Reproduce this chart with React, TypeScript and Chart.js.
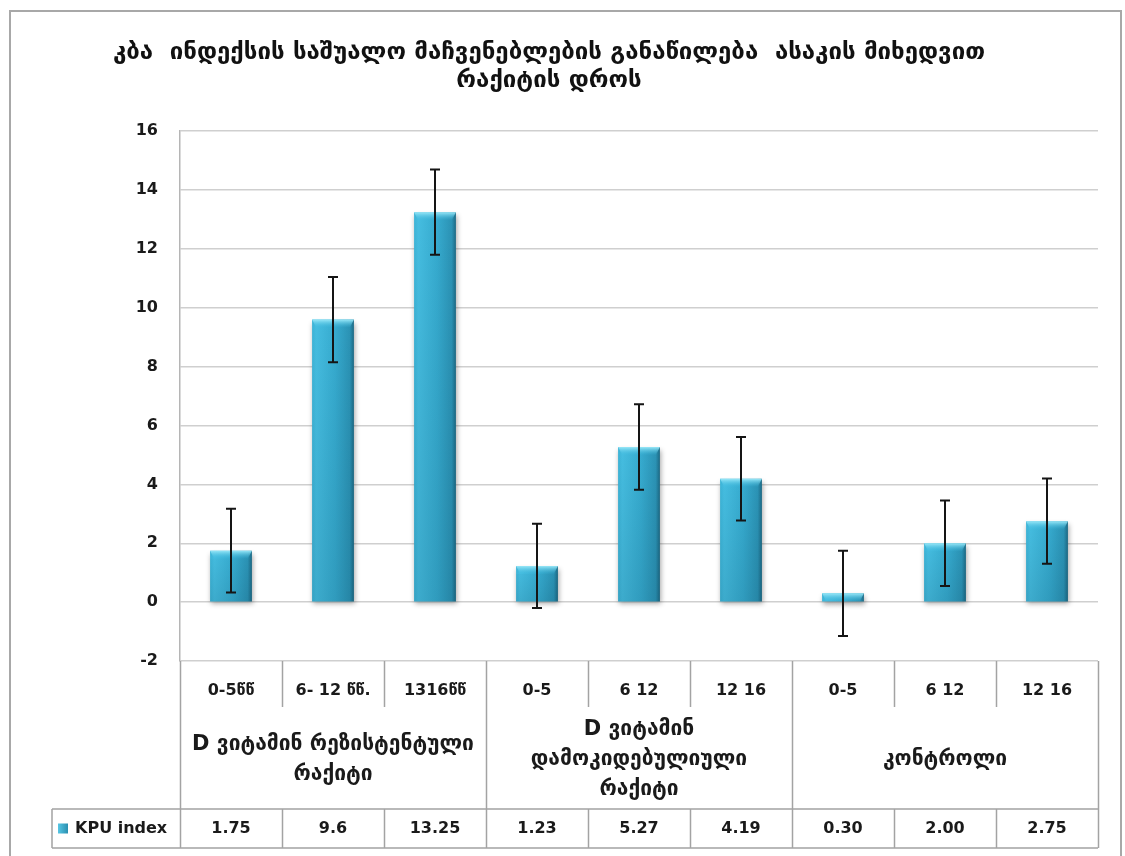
import React, { useEffect, useRef } from "react";
import { Chart, registerables } from "chart.js";

Chart.register(...registerables);

const titleLines = [
  "კბა  ინდექსის საშუალო მაჩვენებლების განაწილება  ასაკის მიხედვით",
  "რაქიტის დროს",
];
const ageLabels = ["0-5წწ", "6- 12 წწ.", "1316წწ", "0-5", "6 12", "12 16", "0-5", "6 12", "12 16"];
const groupLabels = [
  ["D ვიტამინ რეზისტენტული", "რაქიტი"],
  ["D ვიტამინ", "დამოკიდებულიული", "რაქიტი"],
  ["კონტროლი"],
];
const groupSizes = [3, 3, 3];
const seriesName = "KPU index";
const kpuValues = [1.75, 9.6, 13.25, 1.23, 5.27, 4.19, 0.3, 2.0, 2.75];
const kpuTableText = ["1.75", "9.6", "13.25", "1.23", "5.27", "4.19", "0.30", "2.00", "2.75"];
const kpuErrors = [1.42, 1.45, 1.45, 1.43, 1.45, 1.42, 1.45, 1.45, 1.45];
const yMin = -2;
const yMax = 16;
const yStep = 2;

const GEO = "'DejaVu Sans', sans-serif";
const NUM = "'DejaVu Sans', sans-serif";

const chartPlugin = {
  id: "kpuExtras",
  beforeDraw(chart: any) {
    const ctx = chart.ctx;
    ctx.save();
    ctx.fillStyle = "#ffffff";
    ctx.fillRect(0, 0, chart.width, chart.height);
    ctx.strokeStyle = "#a8a8a8";
    ctx.lineWidth = 2;
    ctx.strokeRect(10, 11, chart.width - 14, chart.height + 30);
    ctx.restore();
  },
  beforeDatasetsDraw(chart: any) {
    const ctx = chart.ctx;
    ctx.save();
    ctx.shadowColor = "rgba(0,0,0,0.35)";
    ctx.shadowBlur = 5;
    ctx.shadowOffsetX = 1;
    ctx.shadowOffsetY = 3;
  },
  afterDatasetsDraw(chart: any) {
    const ctx = chart.ctx;
    ctx.restore();
    const ys = chart.scales.y;
    const meta = chart.getDatasetMeta(0);
    ctx.save();
    meta.data.forEach((bar: any, i: number) => {
      const p = bar.getProps(["x", "y", "base", "width"], true);
      const left = p.x - p.width / 2;
      const right = p.x + p.width / 2;
      const top = Math.min(p.y, p.base);
      const h = Math.abs(p.base - p.y);
      const bh = Math.min(8, h);
      const g = ctx.createLinearGradient(0, top, 0, top + bh);
      g.addColorStop(0, "#9ae8f8");
      g.addColorStop(1, "rgba(70,190,225,0)");
      ctx.fillStyle = g;
      ctx.beginPath();
      ctx.moveTo(left, top);
      ctx.lineTo(right, top);
      ctx.lineTo(right - 4, top + bh);
      ctx.lineTo(left + 4, top + bh);
      ctx.closePath();
      ctx.fill();
      const vg = ctx.createLinearGradient(0, top, 0, top + h);
      vg.addColorStop(0, "rgba(0,40,60,0)");
      vg.addColorStop(1, "rgba(0,40,60,0.12)");
      ctx.fillStyle = vg;
      ctx.fillRect(left, top + bh, p.width, h - bh);
      const v = kpuValues[i];
      const e = kpuErrors[i];
      const yHi = ys.getPixelForValue(v + e);
      const yLo = ys.getPixelForValue(v - e);
      ctx.strokeStyle = "#151515";
      ctx.lineWidth = 2;
      ctx.beginPath();
      ctx.moveTo(p.x, yHi);
      ctx.lineTo(p.x, yLo);
      ctx.moveTo(p.x - 5, yHi);
      ctx.lineTo(p.x + 5, yHi);
      ctx.moveTo(p.x - 5, yLo);
      ctx.lineTo(p.x + 5, yLo);
      ctx.stroke();
    });
    ctx.restore();
  },
  afterDraw(chart: any) {
    const ctx = chart.ctx;
    const xs = chart.scales.x;
    const area = chart.chartArea;
    const n = ageLabels.length;
    const edge = (k: number) => xs.getPixelForValue(k - 0.5);
    const top = area.bottom;
    const r1 = top + 46;
    const r2 = top + 148;
    const r3 = top + 187;
    const legLeft = 52;
    const bounds: number[] = [];
    let acc = 0;
    groupSizes.forEach((s) => {
      acc += s;
      bounds.push(acc);
    });
    ctx.save();
    ctx.strokeStyle = "#a3a3a3";
    ctx.lineWidth = 1.5;
    ctx.beginPath();
    for (let k = 0; k <= n; k++) {
      const x = Math.round(edge(k)) + 0.5;
      const isGroup = k === 0 || bounds.includes(k);
      ctx.moveTo(x, top);
      ctx.lineTo(x, isGroup ? r3 : r1);
      if (!isGroup) {
        ctx.moveTo(x, r2);
        ctx.lineTo(x, r3);
      }
    }
    ctx.moveTo(legLeft, r2);
    ctx.lineTo(edge(n), r2);
    ctx.moveTo(legLeft, r3);
    ctx.lineTo(edge(n), r3);
    ctx.moveTo(legLeft, r2);
    ctx.lineTo(legLeft, r3);
    ctx.stroke();

    ctx.fillStyle = "#1a1a1a";
    ctx.textAlign = "center";
    ctx.textBaseline = "middle";
    ctx.font = `bold 21px ${GEO}`;
    let start = 0;
    groupLabels.forEach((lines, gi) => {
      const cx = (edge(start) + edge(start + groupSizes[gi])) / 2;
      const cy = (r1 + r2) / 2 + 2;
      const lh = 30;
      lines.forEach((ln, li) => {
        ctx.fillText(ln, cx, cy + (li - (lines.length - 1) / 2) * lh);
      });
      start += groupSizes[gi];
    });

    const cyData = (r2 + r3) / 2;
    ctx.font = `bold 16px ${NUM}`;
    kpuTableText.forEach((t, i) => {
      ctx.fillText(t, xs.getPixelForValue(i), cyData);
    });
    const kg = ctx.createLinearGradient(58, 0, 68, 0);
    kg.addColorStop(0, "#56c6e4");
    kg.addColorStop(1, "#2a8fb0");
    ctx.fillStyle = kg;
    ctx.fillRect(58, cyData - 5, 10, 10);
    ctx.fillStyle = "#1a1a1a";
    ctx.textAlign = "left";
    ctx.font = `bold 16px ${NUM}`;
    ctx.fillText(chart.data.datasets[0].label, 75, cyData);
    ctx.restore();
  },
};

export default function App() {
  const ref = useRef<HTMLCanvasElement | null>(null);
  useEffect(() => {
    if (!ref.current) return;
    const chart = new Chart(ref.current, {
      type: "bar",
      data: {
        labels: ageLabels,
        datasets: [
          {
            label: seriesName,
            data: kpuValues,
            categoryPercentage: 1,
            barPercentage: 0.41,
            backgroundColor: (c: any) => {
              const ch = c.chart;
              const xs = ch.scales?.x;
              if (!xs || !ch.chartArea) return "#35a9cc";
              const cx = xs.getPixelForValue(c.dataIndex);
              const w = (xs.getPixelForValue(1) - xs.getPixelForValue(0)) * 0.41;
              const g = ch.ctx.createLinearGradient(cx - w / 2, 0, cx + w / 2, 0);
              g.addColorStop(0, "#3cb3d6");
              g.addColorStop(0.1, "#45bde0");
              g.addColorStop(0.55, "#36abcf");
              g.addColorStop(0.9, "#2b93b5");
              g.addColorStop(1, "#1c6984");
              return g;
            },
            borderWidth: 0,
          },
        ],
      },
      options: {
        animation: false,
        responsive: true,
        maintainAspectRatio: false,
        layout: { padding: { left: 0, right: 27, top: 0, bottom: 0 } },
        plugins: {
          legend: { display: false },
          tooltip: { enabled: false },
          title: {
            display: true,
            text: titleLines,
            color: "#111",
            font: { family: GEO, size: 24, weight: "bold", lineHeight: 1.15 },
            padding: { top: 39, bottom: 37 },
          },
        },
        scales: {
          x: {
            grid: { display: false },
            border: { display: false },
            ticks: {
              color: "#1a1a1a",
              font: { family: NUM, size: 16, weight: "bold" },
              padding: 12,
              maxRotation: 0,
              autoSkip: false,
            },
            afterFit: (s: any) => {
              s.height = 195;
            },
          },
          y: {
            min: yMin,
            max: yMax,
            ticks: {
              stepSize: yStep,
              color: "#1a1a1a",
              font: { family: NUM, size: 16, weight: "bold" },
              padding: 22,
            },
            grid: { color: "#cfcfcf", lineWidth: 1.5, drawTicks: false },
            border: { display: true, color: "#b5b5b5", width: 1.5 },
            afterFit: (s: any) => {
              s.width = 180;
            },
          },
        },
      },
      plugins: [chartPlugin],
    });
    return () => chart.destroy();
  }, []);
  return (
    <div style={{ position: "fixed", left: 0, top: 0, width: 1125, height: 856 }}>
      <canvas ref={ref} />
    </div>
  );
}
